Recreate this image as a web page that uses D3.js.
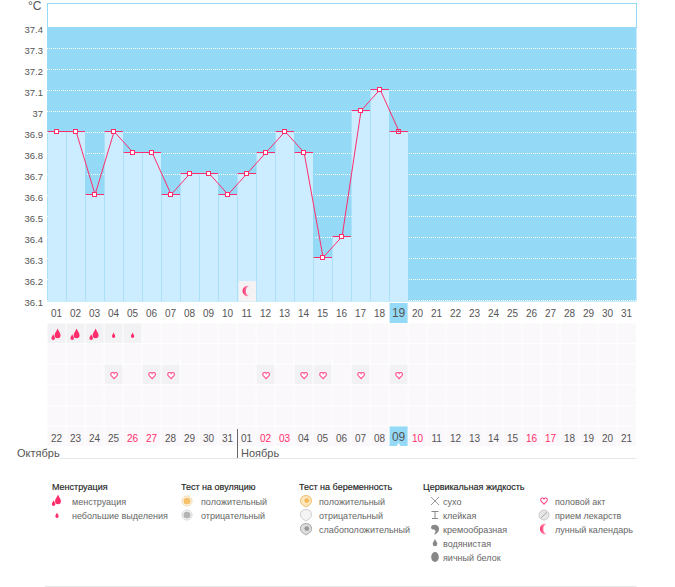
<!DOCTYPE html>
<html>
<head>
<meta charset="utf-8">
<script src="https://cdn.jsdelivr.net/npm/d3@7/dist/d3.min.js"></script>
<style>
html, body { margin: 0; padding: 0; background: #fff; }
svg { display: block; }
text { font-family: "Liberation Sans", sans-serif; font-size: 10px; fill: #555; }
.legend-title { fill: #222; font-size: 9px; stroke: #222; stroke-width: 0.15; }
.legend-item { fill: #666; font-size: 9px; }
</style>
</head>
<body>
<svg width="675" height="587"></svg>
<script>
// Chart data
const days = ['01','02','03','04','05','06','07','08','09','10','11','12','13','14','15','16','17','18','19','20','21','22','23','24','25','26','27','28','29','30','31'];
const dates = ['22','23','24','25','26','27','28','29','30','31','01','02','03','04','05','06','07','08','09','10','11','12','13','14','15','16','17','18','19','20','21'];
const redDates = [4, 5, 11, 12, 19, 25, 26]; // indexes of weekend dates
const temps = [36.9, 36.9, 36.6, 36.9, 36.8, 36.8, 36.6, 36.7, 36.7, 36.6, 36.7, 36.8, 36.9, 36.8, 36.3, 36.4, 37.0, 37.1, 36.9];
const yTicks = [37.4, 37.3, 37.2, 37.1, 37.0, 36.9, 36.8, 36.7, 36.6, 36.5, 36.4, 36.3, 36.2, 36.1];
const periodDays = ['01', '02', '03'];
const spottingDays = ['04', '05'];
const heartDays = ['04', '06', '07', '12', '14', '15', '17', '19'];
const moonDay = '11';
const todayIdx = 18;
const months = ['Октябрь', 'Ноябрь'];

const legendMenses = ['менструация', 'небольшие выделения'];
const legendOvulation = ['положительный', 'отрицательный'];
const legendPregnancy = ['положительный', 'отрицательный', 'слабоположительный'];
const legendFluid = ['сухо', 'клейкая', 'кремообразная', 'водянистая', 'яичный белок'];
const legendOther = ['половой акт', 'прием лекарств', 'лунный календарь'];

const pink = '#ff2d6b';
const sky = '#94d9f6';
const svg = d3.select('svg');

const x = d3.scaleBand().domain(days).range([47.6, 636.6]);
const y = d3.scaleLinear().domain([36.1, 37.4]).range([300.5, 27.5]);
const rowY = d3.scaleBand().domain(d3.range(6)).range([323.5, 447]);
// snap to the pixel grid, the rounding keeps float noise from moving a line one row
const crisp = v => Math.floor(Math.round(v * 100) / 100) + 0.5;

const moonGrad = svg.append('defs').append('linearGradient').attr('id', 'moonGrad');
moonGrad.append('stop').attr('offset', '0%').attr('stop-color', pink);
moonGrad.append('stop').attr('offset', '100%').attr('stop-color', '#ffb3cb');

// Plot background
svg.append('rect').attr('x', 47.5).attr('y', 3.5).attr('width', 589).attr('height', 24)
    .attr('fill', '#fff').attr('stroke', sky);
svg.append('rect').attr('x', 47).attr('y', y(37.4)).attr('width', 589.5).attr('height', y(36.1) - y(37.4) + 1)
    .attr('fill', sky);

// Dotted grid
svg.append('g').selectAll('line')
    .data(yTicks.filter(d => d !== 37.4))
    .join('line')
    .attr('x1', 47).attr('x2', 636.5)
    .attr('y1', d => crisp(y(d))).attr('y2', d => crisp(y(d)))
    .attr('stroke', '#fff').attr('stroke-dasharray', '1,1');

// Bars
const bars = svg.append('g').selectAll('g').data(temps).join('g');
bars.append('rect')
    .attr('x', (d, i) => x(days[i]))
    .attr('y', d => y(d) - 1.5)
    .attr('width', x.bandwidth() - 0.6)
    .attr('height', d => y(36.1) - y(d) + 2)
    .attr('fill', '#ccecff');
bars.append('line')
    .attr('x1', (d, i) => crisp(x(days[i]) + x.bandwidth() - 0.2))
    .attr('x2', (d, i) => crisp(x(days[i]) + x.bandwidth() - 0.2))
    .attr('y1', d => y(d))
    .attr('y2', y(36.1) + 0.5)
    .attr('stroke', sky);
bars.append('line')
    .attr('x1', (d, i) => x(days[i]))
    .attr('x2', (d, i) => x(days[i]) + x.bandwidth() - 0.6)
    .attr('y1', d => crisp(y(d) - 1)).attr('y2', d => crisp(y(d) - 1))
    .attr('stroke', pink);

// Moon cell inside the plot
svg.append('rect')
    .attr('x', x(moonDay) + 1).attr('y', 281).attr('width', x.bandwidth() - 1.5).attr('height', 20.5)
    .attr('fill', '#f4f2f3');

// Temperature line
const line = d3.line().x((d, i) => x(days[i]) + x.bandwidth() / 2).y(d => y(d) - 1);
svg.append('path').datum(temps).attr('d', line)
    .attr('fill', 'none').attr('stroke', pink).attr('stroke-width', 1);
svg.append('g').selectAll('rect').data(temps).join('rect')
    .attr('x', (d, i) => crisp(x(days[i]) + x.bandwidth() / 2 - 2.5))
    .attr('y', d => crisp(y(d) - 3))
    .attr('width', 4).attr('height', 4)
    .attr('fill', (d, i) => i === todayIdx ? 'none' : '#fff')
    .attr('stroke', pink);

// Y axis
const yAxis = d3.axisLeft(y).tickValues(yTicks).tickSize(0).tickPadding(0)
    .tickFormat(d => d3.format('.1f')(d).replace('.0', ''));
const yG = svg.append('g').attr('transform', 'translate(43,2)').call(yAxis);
yG.select('.domain').remove();
yG.selectAll('text').style('font-size', '9.5px').style('fill', '#555').style('font-family', '"Liberation Sans", sans-serif');
svg.append('text').attr('x', 28).attr('y', 10).style('font-size', '12px').text('°C');

// Highlighted day + x axis
svg.append('rect').attr('x', x(days[todayIdx])).attr('y', 303).attr('width', 18).attr('height', 20).attr('fill', sky);
const xAxis = d3.axisBottom(x).tickSize(0).tickPadding(0);
const xG = svg.append('g').attr('transform', 'translate(-0.5,308)').call(xAxis);
xG.select('.domain').remove();
xG.selectAll('text').attr('dy', '0').attr('y', 9)
    .style('font-size', (d, i) => i === todayIdx ? '12px' : '10px')
    .style('fill', '#555').style('font-family', '"Liberation Sans", sans-serif');

// Symptom rows
d3.range(5).forEach(r => {
    svg.append('g').selectAll('rect').data(days).join('rect')
        .attr('x', d => x(d))
        .attr('y', rowY(r))
        .attr('width', x.bandwidth() - 1)
        .attr('height', rowY.bandwidth() - 1)
        .attr('fill', d => {
            if (r === 0 && (periodDays.includes(d) || spottingDays.includes(d))) return '#f2f1f3';
            if (r === 2 && heartDays.includes(d)) return '#f2f1f3';
            return '#faf8fa';
        });
});

// Date row
svg.append('g').selectAll('rect').data(dates).join('rect')
    .attr('x', (d, i) => x(days[i]))
    .attr('y', rowY(5))
    .attr('width', x.bandwidth() - 1)
    .attr('height', rowY.bandwidth() - 1)
    .attr('fill', (d, i) => i === todayIdx ? sky : '#faf8fa');
svg.append('path')
    .attr('d', d3.symbol(d3.symbolTriangle, 6))
    .attr('transform', `translate(${x(days[todayIdx]) + 9},445)`)
    .attr('fill', '#fff');
svg.append('g').selectAll('text').data(dates).join('text')
    .attr('x', (d, i) => x(days[i]) + x.bandwidth() / 2 - 0.5)
    .attr('y', (d, i) => i === todayIdx ? 441 : 442)
    .attr('text-anchor', 'middle')
    .style('font-size', (d, i) => i === todayIdx ? '12px' : '10px')
    .style('fill', (d, i) => redDates.includes(i) ? pink : '#555')
    .text(d => d);

// Month labels
svg.append('line').attr('x1', 60).attr('x2', 636.5).attr('y1', 458.5).attr('y2', 458.5).attr('stroke', '#e6e8e8');
svg.append('line').attr('x1', 237.5).attr('x2', 237.5).attr('y1', 429).attr('y2', 458).attr('stroke', '#666');
svg.append('text').attr('x', 17).attr('y', 457).style('font-size', '11px').text(months[0]);
svg.append('text').attr('x', 241).attr('y', 457).style('font-size', '11px').text(months[1]);

// Icon helpers, all drawn around (0,0)
const dropPath = s => `M0,${-4 * s}C${0.6 * s},${-2 * s} ${2.2 * s},${-1 * s} ${2.2 * s},${1 * s}A${2.2 * s},${2.2 * s} 0 0 1 ${-2.2 * s},${1 * s}C${-2.2 * s},${-1 * s} ${-0.6 * s},${-2 * s} 0,${-4 * s}Z`;
const heartPath = 'M0,4L-3.6,0.2C-5,-1.6 -3.8,-3.8 -2,-3.8C-1,-3.8 -0.4,-3.2 0,-2.4C0.4,-3.2 1,-3.8 2,-3.8C3.8,-3.8 5,-1.6 3.6,0.2Z';

function drawFlow(g) {
    g.append('path').attr('d', dropPath(1.35)).attr('transform', 'translate(1,-1)').attr('fill', pink);
    g.append('path').attr('d', dropPath(0.8)).attr('transform', 'translate(-3.4,2.5)').attr('fill', pink);
}
function drawSpot(g) {
    g.append('path').attr('d', dropPath(0.75)).attr('transform', 'translate(0,0.5)').attr('fill', pink);
}
function drawHeart(g) {
    g.append('path').attr('d', heartPath).attr('transform', 'scale(0.8)')
        .attr('fill', '#fff').attr('stroke', '#ff4f8a').attr('stroke-width', 1.4);
}
function drawMoon(g) {
    g.append('path').attr('d', 'M2.5,-5A5.2,5.2 0 1 0 2.5,5A5.5,5.5 0 0 1 2.5,-5Z').attr('fill', 'url(#moonGrad)');
}
function drawTarget(g, outer, inner) {
    g.append('circle').attr('r', 5).attr('fill', '#fff').attr('stroke', outer);
    g.append('circle').attr('r', 3.6).attr('fill', inner);
}
function drawTest(g, stroke, fill, mark) {
    g.append('path').attr('d', 'M0,6L-4.2,3.2C-6,1.6 -6,-2.6 -4,-4.2C-2,-5.8 2,-5.8 4,-4.2C6,-2.6 6,1.6 4.2,3.2Z')
        .attr('fill', fill).attr('stroke', stroke);
    if (mark) g.append('circle').attr('cx', 0.8).attr('cy', -0.4).attr('r', 2.4).attr('fill', mark);
}

// Icons on the chart rows
const cellX = d => x(d) + x.bandwidth() / 2 - 0.5;
periodDays.forEach(d => drawFlow(svg.append('g').attr('transform', `translate(${cellX(d)},335)`)));
spottingDays.forEach(d => drawSpot(svg.append('g').attr('transform', `translate(${cellX(d)},335)`)));
heartDays.forEach(d => drawHeart(svg.append('g').attr('transform', `translate(${cellX(d) + 0.5},375.5)`)));
drawMoon(svg.append('g').attr('transform', `translate(${cellX(moonDay)},291)`));

// Legend
const legendRowY = d3.scalePoint().domain(d3.range(5)).range([501, 557]);
function legendGroup(title, items, titleX, textX, iconX, drawers) {
    if (title) svg.append('text').attr('class', 'legend-title').attr('x', titleX).attr('y', 490).text(title);
    items.forEach((t, i) => {
        svg.append('text').attr('class', 'legend-item').attr('x', textX).attr('y', legendRowY(i) + 3.5).text(t);
        drawers[i](svg.append('g').attr('transform', `translate(${iconX},${legendRowY(i)})`));
    });
}
legendGroup('Менструация', legendMenses, 52, 72, 57, [drawFlow, drawSpot]);
legendGroup('Тест на овуляцию', legendOvulation, 181, 201, 187, [
    g => drawTarget(g, '#f3d9a8', '#f5c26b'),
    g => drawTarget(g, '#d6d6d6', '#b5b5b5')
]);
legendGroup('Тест на беременность', legendPregnancy, 299, 319, 306, [
    g => drawTest(g, '#f0c070', '#fbe6bd', '#f5b95a'),
    g => drawTest(g, '#cfcfcf', '#f4f4f4', null),
    g => drawTest(g, '#aaa', '#ddd', '#999')
]);
legendGroup('Цервикальная жидкость', legendFluid, 423, 443, 435, [
    g => g.append('path').attr('d', 'M-4,-4L4,4M4,-4L-4,4').attr('stroke', '#999').attr('fill', 'none'),
    g => g.append('path').attr('d', 'M-3.5,-3.5H3.5M0,-3.5V3.5M-3,3.5H3').attr('stroke', '#888').attr('fill', 'none'),
    g => g.append('path').attr('d', 'M-4,-2C-3,-5 3,-5 4,-1C4.5,2 2,5 -1,5.5C1,3 1,1 -1,0.5C-3,0.5 -4,0 -4,-2Z').attr('fill', '#888'),
    g => g.append('path').attr('d', dropPath(1.05)).attr('fill', '#888'),
    g => g.append('ellipse').attr('rx', 3.8).attr('ry', 5).attr('fill', '#888')
]);
legendGroup(null, legendOther, 0, 555, 544, [
    drawHeart,
    g => {
        g.append('circle').attr('r', 5).attr('fill', '#e6e6e6').attr('stroke', '#ccc');
        g.append('path').attr('d', 'M-3,3L3,-3').attr('stroke', '#aaa');
    },
    drawMoon
]);

// Bottom rule
svg.append('line').attr('x1', 45).attr('x2', 636.5).attr('y1', 586.5).attr('y2', 586.5).attr('stroke', '#e6e8e8');
</script>
</body>
</html>
